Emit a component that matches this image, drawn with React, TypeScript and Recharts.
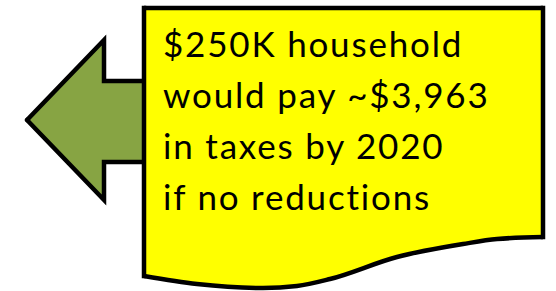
import { Area, ComposedChart, ReferenceLine, XAxis, YAxis } from "recharts";

const W = 556;
const H = 291;

// arrow outline: x positions and [upper, lower] edges
const arrowX = [27, 104, 104, 144];
const arrowTop = [120, 40, 81, 81];
const arrowBottom = [120, 200, 162, 162];

// note shape: straight top, wavy bottom
const noteX = [144, 197, 263, 297, 330, 397, 463, 497, 543];
const noteTop = [8, 8, 8, 8, 8, 8, 8, 8, 8];
const noteBottom = [276, 284, 288, 286, 279, 257, 244, 239, 237];

const noteLines = [
  "$250K household",
  "would pay ~$3,963",
  "in taxes by 2020",
  "if no reductions"
];

const arrowData = arrowX.map((x, i) => ({ x, range: [arrowTop[i], arrowBottom[i]] }));
const noteData = noteX.map((x, i) => ({ x, range: [noteTop[i], noteBottom[i]] }));

const leftEdge = [
  { x: noteX[0], y: noteTop[0] },
  { x: noteX[0], y: noteBottom[0] }
];
const rightEdge = [
  { x: noteX[noteX.length - 1], y: noteTop[noteTop.length - 1] },
  { x: noteX[noteX.length - 1], y: noteBottom[noteBottom.length - 1] }
];

const App = (): React.ReactElement => {
  return (
    <div style={{ position: "fixed", left: 0, top: 0, width: W, height: H, background: "#fff" }}>
      <ComposedChart width={W} height={H} margin={{ top: 0, right: 0, bottom: 0, left: 0 }}>
        <XAxis type="number" dataKey="x" domain={[0, W]} hide allowDataOverflow />
        <YAxis type="number" domain={[0, H]} reversed hide allowDataOverflow />
        <Area
          data={arrowData}
          dataKey="range"
          type="linear"
          fill="#87a443"
          fillOpacity={1}
          stroke="#000"
          strokeWidth={4.5}
          strokeLinecap="round"
          isAnimationActive={false}
          dot={false}
          activeDot={false}
        />
        <Area
          data={noteData}
          dataKey="range"
          type="monotoneX"
          fill="#ffff00"
          fillOpacity={1}
          stroke="#000"
          strokeWidth={4.5}
          isAnimationActive={false}
          dot={false}
          activeDot={false}
        />
        <ReferenceLine segment={leftEdge} stroke="#000" strokeWidth={4.5} strokeLinecap="square" />
        <ReferenceLine segment={rightEdge} stroke="#000" strokeWidth={4.5} strokeLinecap="square" />
      </ComposedChart>
      <div
        style={{
          position: "absolute",
          left: 163,
          top: 18,
          fontFamily: "Lato, sans-serif",
          fontSize: 35,
          letterSpacing: "1.8px",
          lineHeight: "51px",
          color: "#000",
          whiteSpace: "nowrap"
        }}
      >
        {noteLines.map((line) => (
          <div key={line}>{line}</div>
        ))}
      </div>
    </div>
  );
};

export default App;
